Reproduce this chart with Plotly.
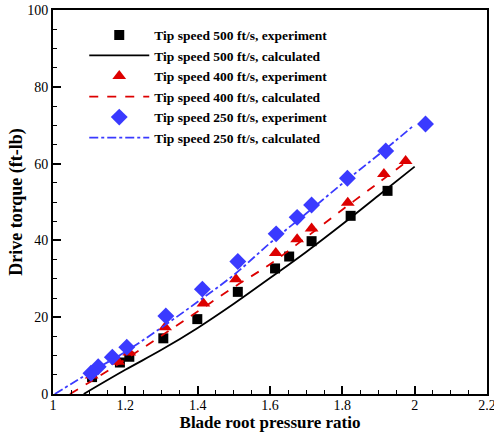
import plotly.graph_objects as go

# Experiment data
x500_exp = [1.108, 1.185, 1.211, 1.305, 1.399, 1.511, 1.614, 1.653, 1.715, 1.823, 1.925]
y500_exp = [4.4, 8.2, 9.7, 14.5, 19.5, 26.6, 32.7, 35.8, 39.8, 46.4, 52.9]

x400_exp = [1.107, 1.18, 1.211, 1.31, 1.416, 1.506, 1.616, 1.675, 1.715, 1.815, 1.915, 1.975]
y400_exp = [4.8, 8.4, 10.8, 17.4, 23.6, 29.9, 36.7, 40.3, 43.1, 49.8, 57.3, 60.7]

x250_exp = [1.105, 1.125, 1.164, 1.204, 1.312, 1.413, 1.511, 1.617, 1.675, 1.715, 1.814, 1.92, 2.03]
y250_exp = [5.4, 7.1, 9.6, 12.2, 20.3, 27.3, 34.5, 41.7, 46.0, 49.2, 56.2, 63.3, 70.3]

# Calculated curves
x500_calc = [1.085, 1.2, 1.3, 1.4, 1.5, 1.6, 1.7, 1.8, 1.9, 2.0]
y500_calc = [0, 6.3, 11.5, 17.2, 23.5, 30.2, 37.0, 44.2, 51.7, 59.2]

x400_calc = [1.047, 1.1, 1.2, 1.3, 1.4, 1.5, 1.6, 1.7, 1.8, 1.9, 1.978]
y400_calc = [0, 3.0, 9.0, 15.2, 21.5, 27.8, 33.8, 40.8, 48.0, 55.0, 60.5]

x250_calc = [1.005, 1.1, 1.2, 1.3, 1.4, 1.5, 1.6, 1.7, 1.8, 1.9, 1.996]
y250_calc = [0, 5.5, 11.0, 17.3, 24.0, 31.0, 39.3, 47.0, 54.8, 62.3, 69.8]

x_ticks = [1, 1.2, 1.4, 1.6, 1.8, 2, 2.2]
x_ticklabels = ["1", "1.2", "1.4", "1.6", "1.8", "2", "2.2"]
y_ticks = [0, 20, 40, 60, 80, 100]

BLACK = "#000000"
RED = "#dd0000"
BLUE = "#3a3aff"

fig = go.Figure()
fig.add_trace(go.Scatter(x=x500_exp, y=y500_exp, mode="markers",
                         name="Tip speed 500 ft/s, experiment",
                         marker=dict(symbol="square", size=10, color=BLACK)))
fig.add_trace(go.Scatter(x=x500_calc, y=y500_calc, mode="lines",
                         name="Tip speed 500 ft/s, calculated",
                         line=dict(color=BLACK, width=1.8, shape="spline")))
fig.add_trace(go.Scatter(x=x400_exp, y=y400_exp, mode="markers",
                         name="Tip speed 400 ft/s, experiment",
                         marker=dict(symbol="triangle-up", size=12, color=RED)))
fig.add_trace(go.Scatter(x=x400_calc, y=y400_calc, mode="lines",
                         name="Tip speed 400 ft/s, calculated",
                         line=dict(color=RED, width=1.8, dash="dash", shape="spline")))
fig.add_trace(go.Scatter(x=x250_exp, y=y250_exp, mode="markers",
                         name="Tip speed 250 ft/s, experiment",
                         marker=dict(symbol="diamond", size=13, color=BLUE)))
fig.add_trace(go.Scatter(x=x250_calc, y=y250_calc, mode="lines",
                         name="Tip speed 250 ft/s, calculated",
                         line=dict(color=BLUE, width=1.8, dash="dashdot", shape="spline")))

font_family = "Liberation Serif, Times New Roman, serif"

fig.update_layout(
    width=494, height=432,
    margin=dict(l=53, r=7, t=10, b=38, autoexpand=False),
    paper_bgcolor="white", plot_bgcolor="white",
    font=dict(family=font_family, size=13, color="black"),
    showlegend=True,
    legend=dict(x=0.072, y=0.975, xanchor="left", yanchor="top",
                bgcolor="rgba(0,0,0,0)", borderwidth=0,
                font=dict(family=font_family, size=13.5, color="black", weight="bold"),
                tracegroupgap=0, itemwidth=60),
    xaxis=dict(range=[1, 2.2], tickvals=x_ticks, ticktext=x_ticklabels,
               ticks="inside", ticklen=8, tickwidth=1.5, tickcolor="black",
               minor=dict(dtick=0.05, ticks="inside", ticklen=4, tickwidth=1, tickcolor="black"),
               showline=True, linewidth=2, linecolor="black", mirror=True,
               showgrid=False, zeroline=False, automargin=False,
               ticklabeloverflow="allow", ticklabelstandoff=-3,
               tickfont=dict(size=14),
               title=dict(text="<b>Blade root pressure ratio</b>", font=dict(size=17), standoff=0)),
    yaxis=dict(range=[0, 100], tickvals=y_ticks,
               ticks="inside", ticklen=8, tickwidth=1.5, tickcolor="black",
               minor=dict(dtick=5, ticks="inside", ticklen=4, tickwidth=1, tickcolor="black"),
               showline=True, linewidth=2, linecolor="black", mirror=True,
               showgrid=False, zeroline=False, automargin=False,
               tickfont=dict(size=14),
               title=dict(text="<b>Drive torque (ft-lb)</b>", font=dict(size=18), standoff=0)),
)

fig.write_html("out.html",
               config={"displayModeBar": False},
               post_script="document.body.style.margin='0';document.body.style.overflow='hidden';")
